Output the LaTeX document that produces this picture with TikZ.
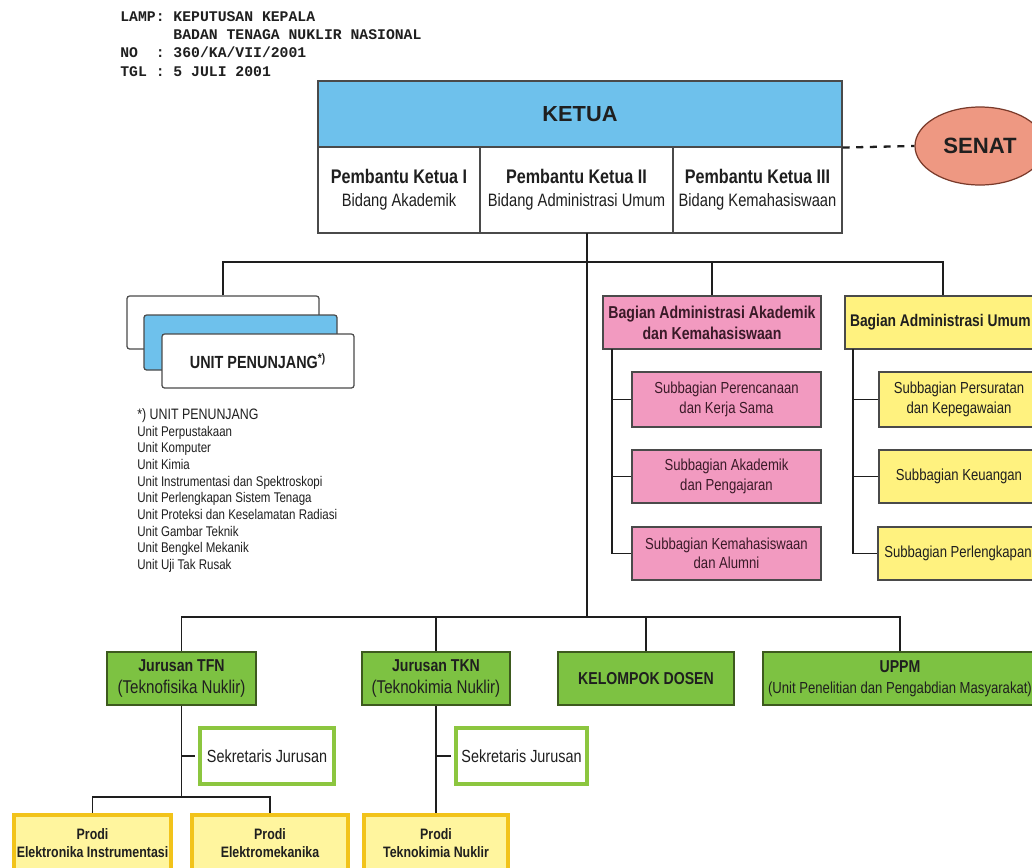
\documentclass[tikz,border=0pt]{standalone}
\usepackage{fontspec}
\setmainfont{Liberation Sans}
\newfontfamily\nar[FakeStretch=0.82]{Liberation Sans}
\newfontfamily\cour{Liberation Mono}
\usetikzlibrary{shapes.geometric}
\definecolor{ketuablue}{HTML}{6EC1EC}
\definecolor{bordergray}{HTML}{4A4A4A}
\definecolor{linec}{HTML}{1E1E1E}
\definecolor{txt}{HTML}{1F1F1F}
\definecolor{pinktxt}{HTML}{3A1A28}
\definecolor{senatfill}{HTML}{EE9882}
\definecolor{senatdraw}{HTML}{7A3A2A}
\definecolor{pinkfill}{HTML}{F29AC0}
\definecolor{yelfill}{HTML}{FFF27F}
\definecolor{greenfill}{HTML}{7DC242}
\definecolor{greendraw}{HTML}{3D5A1E}
\definecolor{sekgreen}{HTML}{8CC63F}
\definecolor{prodifill}{HTML}{FFF59E}
\definecolor{prodidraw}{HTML}{F2C31A}
\newcommand{\fsz}[2]{\fontsize{#1}{#2}\selectfont}
\begin{document}
\begin{tikzpicture}[x=0.02cm,y=-0.02cm,
  box/.style={draw=bordergray, line width=0.6pt, inner sep=0pt, align=center, text=txt},
  sz/.style 2 args={minimum width=#1*0.02cm, minimum height=#2*0.02cm},
  conn/.style={draw=linec, line width=1.1pt},
  unitbox/.style={box, rounded corners=1.5pt, line width=0.7pt},
  pinkbox/.style={box, fill=pinkfill, text=pinktxt},
  yelbox/.style={box, fill=yelfill},
  greenbox/.style={box, fill=greenfill, draw=greendraw},
  sekbox/.style={box, fill=white, draw=sekgreen, line width=2.6pt},
  prodibox/.style={box, fill=prodifill, draw=prodidraw, line width=2.4pt},
]
\clip (0,0) rectangle (1032,867);
\fill[white] (0,0) rectangle (1032,867);

% header text
\node[anchor=north west, inner sep=0pt, align=left, font=\cour\bfseries\fsz{8.4}{10.4}, text=txt] (hdr) at (120,11)
 {LAMP: KEPUTUSAN KEPALA\\
  \phantom{LAMP:~}BADAN TENAGA NUKLIR NASIONAL\\
  NO~~: 360/KA/VII/2001\\
  TGL : 5 JULI 2001};

% top boxes
\node[box, fill=ketuablue, sz={524}{66}, font=\bfseries\fsz{12.4}{14}] (ketua) at (580,114) {KETUA};
\node[box, fill=white, sz={162}{86}] (pk1) at (399,190)
 {{\nar\bfseries\fsz{11.2}{13}Pembantu Ketua I}\\[1pt]{\nar\fsz{10.2}{12}Bidang Akademik}};
\node[box, fill=white, sz={193}{86}] (pk2) at (576.5,190)
 {{\nar\bfseries\fsz{11.2}{13}Pembantu Ketua II}\\[1pt]{\nar\fsz{10.2}{12}Bidang Administrasi Umum}};
\node[box, fill=white, sz={169}{86}] (pk3) at (757.5,190)
 {{\nar\bfseries\fsz{11.2}{13}Pembantu Ketua III}\\[1pt]{\nar\fsz{10.2}{12}Bidang Kemahasiswaan}};

\node[ellipse, draw=senatdraw, line width=0.7pt, fill=senatfill, sz={130}{78}, inner sep=0pt, text=txt, font=\bfseries\fsz{12.6}{14}] (senat) at (980,146) {SENAT};
\draw[draw=linec, line width=1.3pt, dash pattern=on 4pt off 3.8pt] (ketua.south east) -- (senat.west);

% trunk coordinates
\coordinate (t0) at (587,233);
\coordinate (t1) at (587,262);
\coordinate (t2) at (587,617);

% unit penunjang stack
\node[unitbox, fill=white, sz={192}{53}] (up1) at (223,322.5) {};
\node[unitbox, fill=ketuablue, sz={193}{55}] (up2) at (240.5,342.5) {};
\node[unitbox, fill=white, sz={192}{54}, font=\nar\bfseries\fsz{10}{12}] (up3) at (258,361) {UNIT PENUNJANG\textsuperscript{*)}};

\node[anchor=north west, inner sep=0pt, align=left, text=txt, font=\nar\fsz{8.0}{9.5}] (list) at (137,408)
 {{\fsz{8.6}{9.5}*) UNIT PENUNJANG}\\
  Unit Perpustakaan\\
  Unit Komputer\\
  Unit Kimia\\
  Unit Instrumentasi dan Spektroskopi\\
  Unit Perlengkapan Sistem Tenaga\\
  Unit Proteksi dan Keselamatan Radiasi\\
  Unit Gambar Teknik\\
  Unit Bengkel Mekanik\\
  Unit Uji Tak Rusak};

% pink branch
\node[pinkbox, sz={218}{53}, font=\nar\bfseries\fsz{9.8}{12}] (baak) at (712,322.5) {Bagian Administrasi Akademik\\dan Kemahasiswaan};
\node[pinkbox, sz={189}{55}, font=\nar\fsz{9.1}{11}] (ps1) at (726.5,399.5) {Subbagian Perencanaan\\dan Kerja Sama};
\node[pinkbox, sz={189}{53}, font=\nar\fsz{9.1}{11}] (ps2) at (726.5,476.5) {Subbagian Akademik\\dan Pengajaran};
\node[pinkbox, sz={189}{53}, font=\nar\fsz{9.1}{11}] (ps3) at (726.5,553.5) {Subbagian Kemahasiswaan\\dan Alumni};

% yellow branch
\node[yelbox, sz={196}{53}] (yah) at (943,322.5) {};
\node[anchor=east, inner sep=0pt, text=txt, font=\nar\bfseries\fsz{9.6}{12}] (yahtxt) at (1031,322.5) {Bagian Administrasi Umum};
\node[yelbox, sz={160}{55}, font=\nar\fsz{9.1}{11}] (ys1) at (959,399.5) {Subbagian Persuratan\\dan Kepegawaian};
\node[yelbox, sz={160}{53}, font=\nar\fsz{9.1}{11}] (ys2) at (959,476.5) {Subbagian Keuangan};
\node[yelbox, sz={160}{53}, font=\nar\fsz{9.1}{11}] (ys3) at (958,553.5) {Subbagian Perlengkapan};

% green row
\node[greenbox, sz={149}{53}] (tfn) at (181.5,678.5)
 {{\nar\bfseries\fsz{9.8}{12}Jurusan TFN}\\{\nar\fsz{10.5}{12}(Teknofisika Nuklir)}};
\node[greenbox, sz={148}{53}] (tkn) at (436,678.5)
 {{\nar\bfseries\fsz{9.8}{12}Jurusan TKN}\\{\nar\fsz{10.5}{12}(Teknokimia Nuklir)}};
\node[greenbox, sz={176}{53}, font=\nar\bfseries\fsz{9.8}{12}] (kd) at (646,678.5) {KELOMPOK DOSEN};
\node[greenbox, sz={274}{53}] (uppm) at (900,678.5)
 {{\nar\bfseries\fsz{9.8}{12}UPPM}\\{\nar\fsz{9.1}{11}(Unit Penelitian dan Pengabdian Masyarakat)}};

% sekretaris
\node[sekbox, sz={134}{56}, font=\nar\fsz{10}{12}] (sj1) at (267,756) {Sekretaris Jurusan};
\node[sekbox, sz={131}{56}, font=\nar\fsz{10}{12}] (sj2) at (521.5,756) {Sekretaris Jurusan};

% prodi
\node[prodibox, sz={157}{56}, font=\nar\bfseries\fsz{8.6}{10.2}] (p1) at (92.5,843) {Prodi\\Elektronika Instrumentasi};
\node[prodibox, sz={156}{56}, font=\nar\bfseries\fsz{8.6}{10.2}] (p2) at (270,843) {Prodi\\Elektromekanika};
\node[prodibox, sz={144}{56}, font=\nar\bfseries\fsz{8.6}{10.2}] (p3) at (436,843) {Prodi\\Teknokimia Nuklir};

% connectors
\draw[conn] (t0) -- (t2);
\draw[conn] (up1.north) |- (t1) -| (yah.north);
\draw[conn] (t1) -| (baak.north);

\coordinate (pv) at (612,349);
\draw[conn] (pv) |- (ps3.west);
\draw[conn] (pv |- ps1.west) -- (ps1.west);
\draw[conn] (pv |- ps2.west) -- (ps2.west);

\coordinate (yv) at (853,349);
\draw[conn] (yv) |- (ys3.west);
\draw[conn] (yv |- ys1.west) -- (ys1.west);
\draw[conn] (yv |- ys2.west) -- (ys2.west);

\draw[conn] (tfn.north) |- (t2) -| (uppm.north);
\draw[conn] (t2) -| (tkn.north);
\draw[conn] (t2) -| (kd.north);

\coordinate (pb) at (181.5,797);
\draw[conn] (tfn.south) -- (pb);
\draw[conn] (p1.north) |- (pb) -| (p2.north);
\draw[conn] (tfn.south |- sj1.west) -- ([xshift=-1.3pt]sj1.west);
\draw[conn] (tkn.south) -- (p3.north);
\draw[conn] (tkn.south |- sj2.west) -- ([xshift=-1.3pt]sj2.west);
\end{tikzpicture}
\end{document}
